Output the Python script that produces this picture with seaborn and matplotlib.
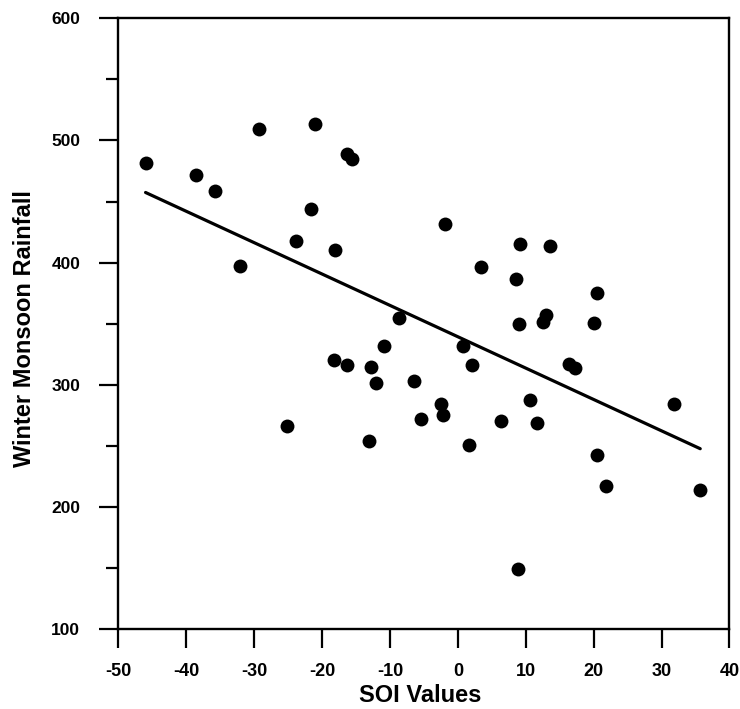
import matplotlib
matplotlib.use("Agg")
import pandas as pd
import matplotlib.pyplot as plt
from matplotlib.ticker import MultipleLocator
import seaborn as sns

# SOI index vs. winter monsoon rainfall
soi = [-46.0, -38.5, -35.7, -29.3, -21.0, -16.4, -15.6, -21.7, -23.8, -18.1,
       -32.1, -25.1, -18.2, -16.4, -12.8, -12.0, -13.1, -10.9, -8.7, -6.4,
       -5.4, -1.9, -2.5, -2.2, 0.8, 1.7, 2.1, 3.4, 6.4, 8.5,
       9.2, 9.0, 13.5, 13.0, 12.5, 10.6, 11.7, 16.3, 17.2, 20.0,
       20.5, 20.5, 21.8, 8.8, 31.8, 35.7]
rainfall = [481.6, 471.8, 458.4, 509.4, 513.8, 489.0, 485.0, 443.7, 417.5, 410.0,
            397.0, 266.4, 320.5, 316.3, 315.0, 301.6, 253.8, 331.8, 355.0, 303.0,
            272.4, 432.0, 284.7, 275.7, 332.0, 251.0, 316.3, 396.5, 270.5, 387.0,
            415.6, 349.6, 414.0, 357.5, 351.5, 288.0, 269.0, 317.4, 314.0, 350.7,
            375.5, 243.0, 217.0, 149.0, 284.0, 214.3]

df = pd.DataFrame({'SOI': soi, 'Rainfall': rainfall})

sns.set_style("ticks")
plt.rcParams['font.family'] = ['Liberation Sans', 'DejaVu Sans']
plt.rcParams['font.weight'] = 'bold'
plt.rcParams['axes.unicode_minus'] = False  # plain hyphen like the original
for key in ['text.color', 'axes.labelcolor', 'xtick.color', 'ytick.color',
            'xtick.labelcolor', 'ytick.labelcolor', 'axes.edgecolor']:
    plt.rcParams[key] = 'black'

fig = plt.figure(figsize=(7.4, 7.09), dpi=100)
ax = fig.add_axes([0.160, 0.1124, 0.8257, 0.8618])

# scatter + least-squares line
sns.regplot(x='SOI', y='Rainfall', data=df, ax=ax, ci=None, truncate=True,
            scatter_kws={'s': 100, 'color': 'black', 'linewidths': 0, 'alpha': 1},
            line_kws={'color': 'black', 'linewidth': 2.3})

ax.set_xlim(-50, 40)
ax.set_ylim(100, 600)
ax.xaxis.set_major_locator(MultipleLocator(10))
ax.yaxis.set_major_locator(MultipleLocator(100))
ax.yaxis.set_minor_locator(MultipleLocator(50))

for side in ['top', 'right', 'left', 'bottom']:
    ax.spines[side].set_visible(True)
    ax.spines[side].set_linewidth(1.7)
    ax.spines[side].set_color('black')

ax.tick_params(axis='both', which='major', direction='out', length=13.5, width=1.6,
               color='black', labelcolor='black', labelsize=12.5)
ax.tick_params(axis='y', which='minor', direction='out', length=8.5, width=1.6, color='black')
ax.tick_params(axis='y', which='major', pad=14)
ax.tick_params(axis='x', which='major', pad=11, labelsize=13)
for lab in ax.get_xticklabels() + ax.get_yticklabels():
    lab.set_fontweight('bold')

ax.set_xlabel('SOI Values', fontsize=17, fontweight='bold', color='black')
ax.set_ylabel('Winter Monsoon Rainfall', fontsize=17, fontweight='bold', color='black')
ax.xaxis.set_label_coords(0.494, -0.090)
ax.yaxis.set_label_coords(-0.135, 0.493)

fig.savefig('out.png', dpi=100, facecolor='white')
